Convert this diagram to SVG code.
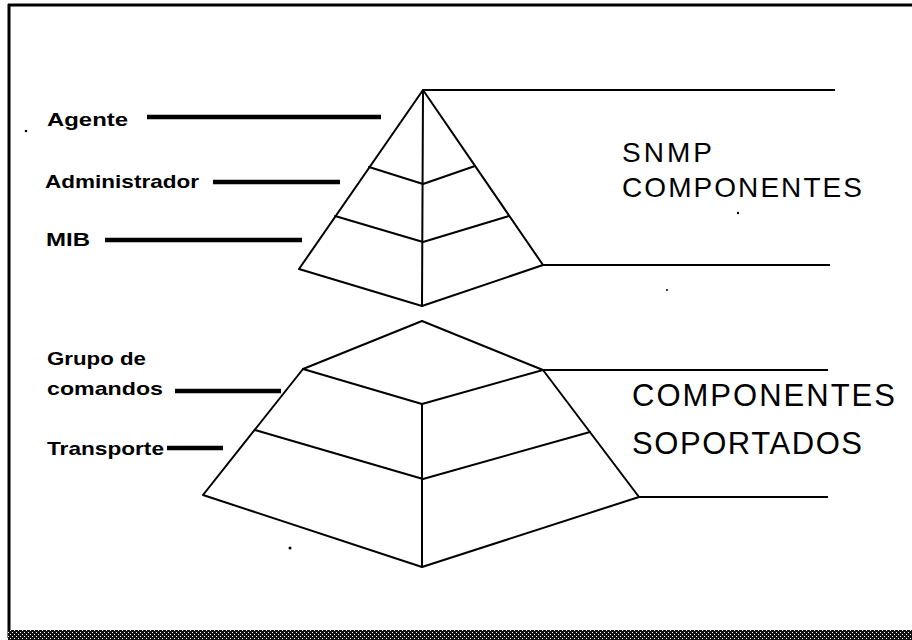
<svg xmlns="http://www.w3.org/2000/svg" width="912" height="640" viewBox="0 0 912 640">
<style>
.edge{fill:none;stroke:#000;stroke-width:2;stroke-linejoin:round;stroke-linecap:round}
.lead{stroke:#000;stroke-width:4.5;stroke-linecap:butt}
.rule{stroke:#000;stroke-width:2}
.lbl{font-family:"Liberation Sans",Arial,sans-serif;font-weight:bold;font-size:19px;fill:#000}
.big{font-family:"Liberation Sans",Arial,sans-serif;font-size:28px;fill:#000}
.big2{font-family:"Liberation Sans",Arial,sans-serif;font-size:31px;fill:#000}
</style>
<defs>
<pattern id="dither" width="4" height="4" patternUnits="userSpaceOnUse">
<rect width="4" height="4" fill="#111"/>
<rect x="0" y="0" width="1" height="1" fill="#fff"/>
<rect x="2" y="2" width="1" height="1" fill="#fff"/>
</pattern>
</defs>
<rect width="912" height="640" fill="#fff"/>
<g id="frame">
<line x1="8" y1="5" x2="912" y2="5" stroke="#000" stroke-width="3"/>
<line x1="9" y1="4" x2="9" y2="638" stroke="#000" stroke-width="3"/>
<rect x="8" y="630" width="904" height="10" fill="url(#dither)"/>
</g>
<g id="pyramid-snmp">
<polygon class="edge" points="423,90 299,269 422,306 543,265"/>
<line class="edge" x1="423" y1="90" x2="422" y2="306"/>
<polyline class="edge" points="369,167 423,184 475,166"/>
<polyline class="edge" points="335,216 423,242 509,216"/>
</g>
<g id="pyramid-soporte">
<polygon class="edge" points="422,321 303,369 203,495 422,567 639,497 543,370"/>
<polyline class="edge" points="303,369 422,404 543,370"/>
<line class="edge" x1="422" y1="404" x2="422" y2="567"/>
<polyline class="edge" points="255,430 423,479 590,432"/>
</g>
<g id="connectors">
<line class="rule" x1="423" y1="90" x2="835" y2="90"/>
<line class="rule" x1="543" y1="265" x2="830" y2="265"/>
<line class="rule" x1="543" y1="370" x2="828" y2="370"/>
<line class="rule" x1="639" y1="497" x2="828" y2="497"/>
<line class="lead" x1="147" y1="117" x2="381" y2="117"/>
<line class="lead" x1="213" y1="182" x2="340" y2="182"/>
<line class="lead" x1="105" y1="240" x2="302" y2="240"/>
<line class="lead" x1="175" y1="391" x2="281" y2="391"/>
<line class="lead" x1="167" y1="448" x2="223" y2="448"/>
</g>
<g id="label-agente"><text class="lbl" x="47" y="126" textLength="81" lengthAdjust="spacingAndGlyphs">Agente</text></g>
<g id="label-administrador"><text class="lbl" x="45" y="188" textLength="154" lengthAdjust="spacingAndGlyphs">Administrador</text></g>
<g id="label-mib"><text class="lbl" x="46" y="246" textLength="44" lengthAdjust="spacingAndGlyphs">MIB</text></g>
<g id="label-grupo"><text class="lbl" x="47" y="365" textLength="99" lengthAdjust="spacingAndGlyphs">Grupo de</text><text class="lbl" x="47" y="395" textLength="116" lengthAdjust="spacingAndGlyphs">comandos</text></g>
<g id="label-transporte"><text class="lbl" x="47" y="455" textLength="117" lengthAdjust="spacingAndGlyphs">Transporte</text></g>
<g id="title-snmp"><text class="big" x="622" y="162" textLength="90" lengthAdjust="spacing">SNMP</text><text class="big" x="622" y="197" textLength="240" lengthAdjust="spacing">COMPONENTES</text></g>
<g id="title-soportados"><text class="big2" x="632" y="406" textLength="263" lengthAdjust="spacing">COMPONENTES</text><text class="big2" x="632" y="454" textLength="230" lengthAdjust="spacing">SOPORTADOS</text></g>
<g id="specks" fill="#000">
<circle cx="26" cy="131" r="1.3"/>
<circle cx="290" cy="548" r="1.5"/>
<circle cx="738" cy="213" r="1.2"/>
<circle cx="667" cy="290" r="1"/>
</g>
</svg>
